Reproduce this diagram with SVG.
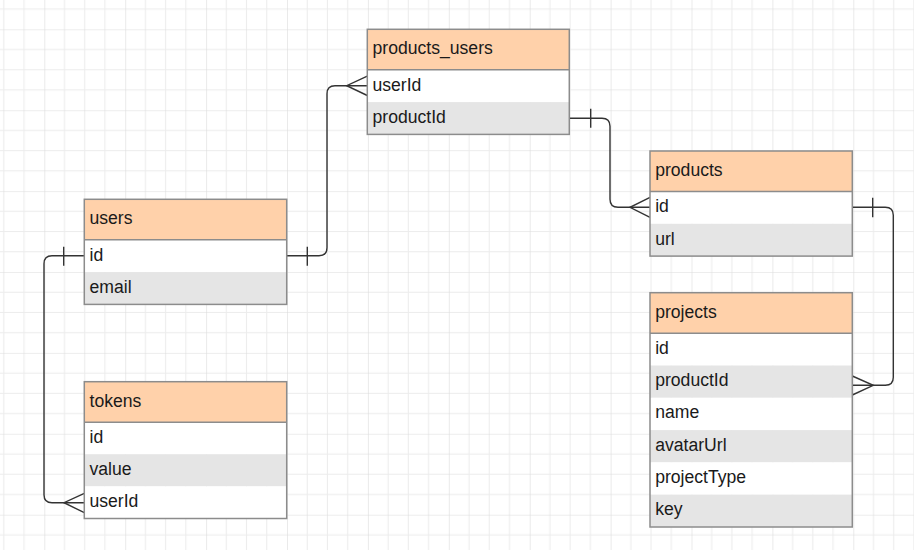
<svg xmlns="http://www.w3.org/2000/svg" width="914" height="550" viewBox="0 0 914 550">
<style>
.hdr{fill:#ffd1aa}
.w{fill:#ffffff}
.g{fill:#e5e5e5}
.bd{fill:none;stroke:#8c8c8c;stroke-width:1.5}
.sep{stroke:#8c8c8c;stroke-width:1.5}
text{font-family:"Liberation Sans",Arial,sans-serif;font-size:17.6px;fill:#1a1a1a}
.cn{fill:none;stroke:#333333;stroke-width:1.4}
</style>
<defs>
<pattern id="grid" patternUnits="userSpaceOnUse" x="44.3" y="29.3" width="80.9" height="80.9">
<rect width="80.9" height="80.9" fill="#ffffff"/>
<path d="M20.225,0V80.9M40.45,0V80.9M60.675,0V80.9M0,20.225H80.9M0,40.45H80.9M0,60.675H80.9" stroke="#ececec" stroke-width="1"/>
<path d="M0,0V80.9M0,0H80.9" stroke="#dcdcdc" stroke-width="1.2"/>
</pattern>
</defs>
<rect x="0" y="0" width="914" height="550" fill="url(#grid)"/>

<g id="connectors">
<path class="cn" d="M286.7,255.7H319Q327,255.7 327,247.7V93.7Q327,85.7 335,85.7H367.3"/>
<path class="cn" d="M307.3,246.7V265.7"/>
<path class="cn" d="M367.3,76.2L346.7,85.7L367.3,95.5"/>

<path class="cn" d="M569.3,118.3H602Q610,118.3 610,126.3V199.3Q610,207.3 618,207.3H650"/>
<path class="cn" d="M590.7,108.8V127.8"/>
<path class="cn" d="M650,197.3L630,207.3L650,217.3"/>

<path class="cn" d="M852.3,207.3H885.3Q893.3,207.3 893.3,215.3V377.3Q893.3,385.3 885.3,385.3H852.3"/>
<path class="cn" d="M872.7,197.7V217.3"/>
<path class="cn" d="M852.3,376L873.3,385.3L852.3,395"/>

<path class="cn" d="M84.3,255.7H52Q44,255.7 44,263.7V494.7Q44,502.7 52,502.7H84.3"/>
<path class="cn" d="M63.7,246.7V265.7"/>
<path class="cn" d="M84.3,493.3L64,502.7L84.3,512.7"/>
</g>

<g id="products_users">
<rect class="hdr" x="367.3" y="29.3" width="202" height="40.5"/>
<rect class="w" x="367.3" y="69.8" width="202" height="32.3"/>
<rect class="g" x="367.3" y="102.1" width="202" height="32.3"/>
<line class="sep" x1="367.3" y1="69.8" x2="569.3" y2="69.8"/>
<rect class="bd" x="367.3" y="29.3" width="202" height="105.1"/>
<text x="372.5" y="54.3">products_users</text>
<text x="372.5" y="90.5">userId</text>
<text x="372.5" y="122.8">productId</text>
</g>

<g id="users">
<rect class="hdr" x="84.3" y="199.3" width="202.4" height="40.5"/>
<rect class="w" x="84.3" y="239.8" width="202.4" height="32.3"/>
<rect class="g" x="84.3" y="272.1" width="202.4" height="32.3"/>
<line class="sep" x1="84.3" y1="239.8" x2="286.7" y2="239.8"/>
<rect class="bd" x="84.3" y="199.3" width="202.4" height="105.1"/>
<text x="89.5" y="224.3">users</text>
<text x="89.5" y="260.5">id</text>
<text x="89.5" y="292.8">email</text>
</g>

<g id="tokens">
<rect class="hdr" x="84.3" y="381.7" width="202.4" height="40.5"/>
<rect class="w" x="84.3" y="422.2" width="202.4" height="32.1"/>
<rect class="g" x="84.3" y="454.3" width="202.4" height="32.1"/>
<rect class="w" x="84.3" y="486.4" width="202.4" height="32.1"/>
<line class="sep" x1="84.3" y1="422.2" x2="286.7" y2="422.2"/>
<rect class="bd" x="84.3" y="381.7" width="202.4" height="136.8"/>
<text x="89.5" y="406.7">tokens</text>
<text x="89.5" y="442.8">id</text>
<text x="89.5" y="474.9">value</text>
<text x="89.5" y="507">userId</text>
</g>

<g id="products">
<rect class="hdr" x="650" y="151" width="202.3" height="40.5"/>
<rect class="w" x="650" y="191.5" width="202.3" height="32.3"/>
<rect class="g" x="650" y="223.8" width="202.3" height="32.3"/>
<line class="sep" x1="650" y1="191.5" x2="852.3" y2="191.5"/>
<rect class="bd" x="650" y="151" width="202.3" height="105.1"/>
<text x="655.2" y="176">products</text>
<text x="655.2" y="212.2">id</text>
<text x="655.2" y="244.5">url</text>
</g>

<g id="projects">
<rect class="hdr" x="650" y="292.7" width="202.3" height="40.5"/>
<rect class="w" x="650" y="333.2" width="202.3" height="32.3"/>
<rect class="g" x="650" y="365.5" width="202.3" height="32.3"/>
<rect class="w" x="650" y="397.8" width="202.3" height="32.3"/>
<rect class="g" x="650" y="430.1" width="202.3" height="32.3"/>
<rect class="w" x="650" y="462.4" width="202.3" height="32.3"/>
<rect class="g" x="650" y="494.7" width="202.3" height="32.3"/>
<line class="sep" x1="650" y1="333.2" x2="852.3" y2="333.2"/>
<rect class="bd" x="650" y="292.7" width="202.3" height="234.3"/>
<text x="655.2" y="317.7">projects</text>
<text x="655.2" y="353.8">id</text>
<text x="655.2" y="386.1">productId</text>
<text x="655.2" y="418.4">name</text>
<text x="655.2" y="450.7">avatarUrl</text>
<text x="655.2" y="483">projectType</text>
<text x="655.2" y="515.3">key</text>
</g>
</svg>
